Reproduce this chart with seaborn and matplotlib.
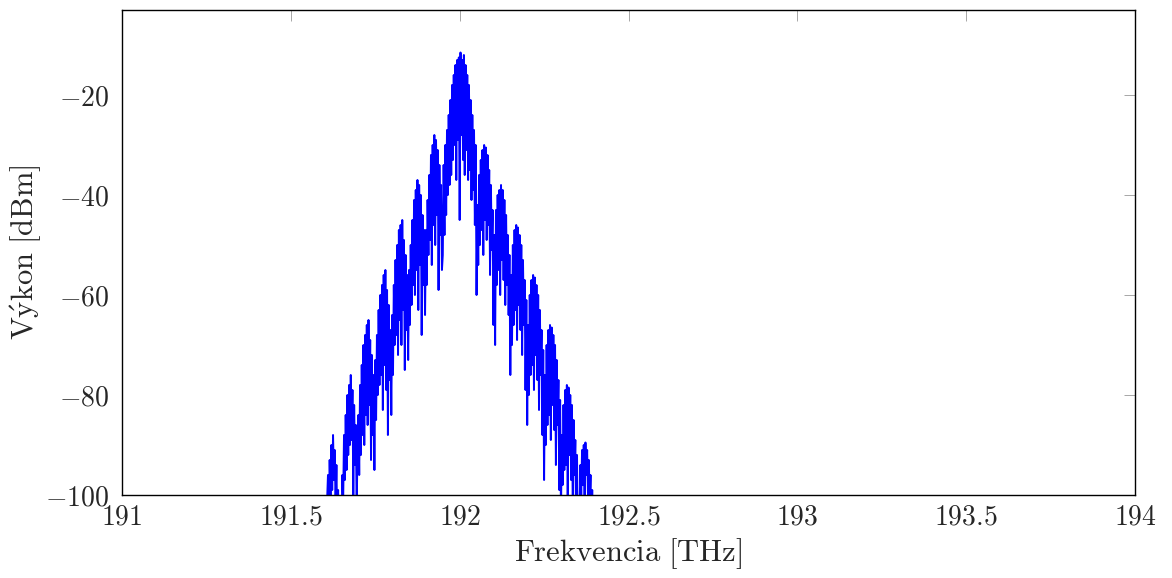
import numpy as np
import pandas as pd
import matplotlib
matplotlib.use("Agg")
import matplotlib.pyplot as plt
import seaborn as sns

freq_start = 191.6
freq_step = 0.0025

lobe_l1 = [-112, -108, -103, -101, -96, -104, -93, -100, -90, -99, -88, -97, -91, -102, -94, -106, -99, -110, -104, -112]
lobe_l2 = [-108, -96, -101, -88, -97, -84, -95, -80, -92, -78, -90, -76, -89, -79, -100, -82, -94, -86, -103, -90]
lobe_l3 = [-84, -96, -78, -92, -74, -88, -70, -90, -68, -84, -66, -86, -65, -82, -69, -93, -72, -88, -76, -95]
lobe_l4 = [-73, -85, -68, -80, -63, -78, -60, -76, -58, -83, -56, -74, -55, -79, -59, -88, -62, -77, -67, -84]
lobe_l5 = [-64, -76, -58, -70, -53, -68, -50, -72, -47, -65, -46, -70, -45, -63, -49, -75, -52, -67, -56, -73]
lobe_l6 = [-55, -66, -50, -62, -45, -58, -41, -60, -39, -55, -37, -63, -38, -54, -40, -68, -44, -58, -47, -64]
lobe_l7 = [-47, -58, -41, -52, -36, -49, -32, -54, -30, -46, -28, -50, -29, -44, -31, -59, -34, -48, -38, -55]
lobe_main = [-52, -34, -48, -30, -44, -27, -40, -24, -38, -21,
             -36, -18, -33, -16, -30, -14, -37, -13, -29, -12.5,
             -45, -11.5, -28, -13, -33, -12, -36, -14, -31, -16,
             -37, -18, -35, -21, -41, -24, -39, -27, -46, -30]
lobe_r1 = [-60, -42, -54, -36, -50, -33, -47, -31, -52, -30, -45, -30.5, -49, -32, -46, -35, -56, -38, -51, -43]
lobe_r2 = [-66, -48, -70, -43, -58, -40, -55, -39, -60, -38, -53, -39, -57, -41, -62, -44, -58, -48, -64, -52]
lobe_r3 = [-76, -56, -70, -50, -66, -47, -63, -46, -69, -46.5, -62, -48, -67, -50, -72, -53, -66, -57, -79, -61]
lobe_r4 = [-86, -66, -80, -60, -76, -57, -74, -56, -79, -56.5, -72, -58, -77, -60, -83, -63, -76, -67, -88, -71]
lobe_r5 = [-97, -76, -90, -70, -86, -67, -84, -66, -89, -66.5, -82, -68, -87, -70, -94, -73, -86, -77, -99, -81]
lobe_r6 = [-104, -88, -98, -82, -95, -79, -94, -78, -100, -78.5, -92, -80, -97, -82, -103, -85, -96, -89, -107, -92]
lobe_r7 = [-110, -101, -104, -94, -100, -91, -98, -90, -103, -89.5, -96, -91, -100, -93, -101, -96, -108, -99, -112, -115, -120]

x_ticks = [191, 191.5, 192, 192.5, 193, 193.5, 194]
x_tick_labels = ["191", "191.5", "192", "192.5", "193", "193.5", "194"]
y_ticks = [-100, -80, -60, -40, -20]
y_tick_labels = ["-100", "-80", "-60", "-40", "-20"]

power = (lobe_l1 + lobe_l2 + lobe_l3 + lobe_l4 + lobe_l5 + lobe_l6 + lobe_l7 + lobe_main
         + lobe_r1 + lobe_r2 + lobe_r3 + lobe_r4 + lobe_r5 + lobe_r6 + lobe_r7)
freq = freq_start + freq_step * np.arange(len(power))
df = pd.DataFrame({"freq": freq, "power": power})

# ---- styling
sns.set_style("white")
plt.rcParams["mathtext.fontset"] = "cm"
plt.rcParams["font.family"] = ["DejaVu Serif"]

fig = plt.figure(figsize=(11.72, 5.78), dpi=100)
ax = fig.add_axes([122 / 1172, 1 - 495 / 578, (1135 - 122) / 1172, (495 - 10) / 578])

sns.lineplot(data=df, x="freq", y="power", ax=ax, color="#0000ff",
             linewidth=1.4, estimator=None, sort=False)

ax.set_xlim(191, 194)
ax.set_ylim(-100, -3)

ax.set_xticks(x_ticks)
ax.set_xticklabels([r"$%s$" % t for t in x_tick_labels], fontsize=20)
ax.set_yticks(y_ticks)
ax.set_yticklabels([r"$%s$" % t for t in y_tick_labels], fontsize=20)

ax.tick_params(axis="both", which="both", direction="in", length=8, width=0.6,
               color="0.6", top=True, right=True)
ax.tick_params(axis="x", pad=6)
ax.tick_params(axis="y", pad=9)

for s in ax.spines.values():
    s.set_visible(True)
    s.set_color("black")
    s.set_linewidth(1.0)

ax.set_xlabel(r"$\mathrm{Frekvencia\ [THz]}$", fontsize=22, labelpad=4)
ax.set_ylabel(r"$\mathrm{V\acute{y}kon\ [dBm]}$", fontsize=22, labelpad=2)

fig.savefig("out.png", dpi=100)
